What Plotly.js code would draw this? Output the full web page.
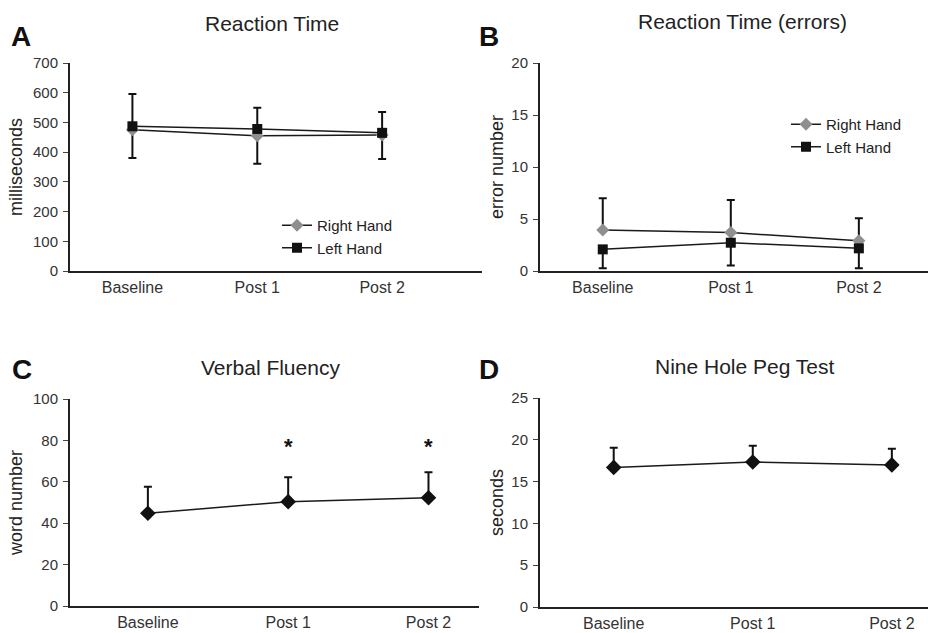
<!DOCTYPE html>
<html>
<head>
<meta charset="utf-8">
<script src="https://cdn.plot.ly/plotly-3.0.1.min.js"></script>
<style>html,body{margin:0;padding:0;background:#fff;}#chart{width:928px;height:633px;}</style>
</head>
<body>
<div id="chart"></div>
<script>
// ---- data ----
const categories = ['Baseline', 'Post 1', 'Post 2'];
const seriesNames = ['Right Hand', 'Left Hand'];
// A: Reaction Time (milliseconds) — Left Hand shows upper SD, Right Hand lower SD
const rtRight = [475, 455, 458];
const rtRightErrDown = [95, 94, 81];
const rtLeft = [487, 478, 465];
const rtLeftErrUp = [109, 71, 70];
// B: Reaction Time errors (error number) — Right Hand upper SD, Left Hand lower SD
const errRight = [3.94, 3.7, 2.9];
const errRightErrUp = [3.06, 3.13, 2.17];
const errLeft = [2.08, 2.72, 2.18];
const errLeftErrDown = [1.82, 2.2, 1.92];
// C: Verbal Fluency (word number)
const verbal = [44.8, 50.4, 52.3];
const verbalErr = [12.8, 11.8, 12.3];
const verbalSig = ['Post 1', 'Post 2'];
const sigLevel = 77;
// D: Nine Hole Peg Test (seconds)
const peg = [16.7, 17.35, 17.0];
const pegErr = [2.36, 1.95, 1.94];

const titles = ['Reaction Time', 'Reaction Time (errors)', 'Verbal Fluency', 'Nine Hole Peg Test'];
const letters = ['A', 'B', 'C', 'D'];
const yTitles = ['milliseconds', 'error number', 'word number', 'seconds'];

// ---- styling ----
const FONT = 'Liberation Sans, Arial, Helvetica, sans-serif';
const W = 928, H = 633;
const px = v => v / W;
const py = v => 1 - v / H;
const lineCol = '#1a1a1a';
const grayMarker = '#8f8f8f';

function errUp(arr) {
  return {type: 'data', symmetric: false, array: arr, arrayminus: arr.map(() => 0), visible: true,
    color: '#111', thickness: 2, width: 4};
}
function errDown(arr) {
  return {type: 'data', symmetric: false, array: arr.map(() => 0), arrayminus: arr, visible: true,
    color: '#111', thickness: 2, width: 4};
}

const traces = [
  {x: categories, y: rtRight, name: seriesNames[0], xaxis: 'x', yaxis: 'y', mode: 'lines+markers',
   line: {color: lineCol, width: 1.5}, marker: {symbol: 'diamond', size: 10, color: grayMarker},
   error_y: errDown(rtRightErrDown), legend: 'legend'},
  {x: categories, y: rtLeft, name: seriesNames[1], xaxis: 'x', yaxis: 'y', mode: 'lines+markers',
   line: {color: lineCol, width: 1.5}, marker: {symbol: 'square', size: 10, color: '#111'},
   error_y: errUp(rtLeftErrUp), legend: 'legend'},
  {x: categories, y: errRight, name: seriesNames[0], xaxis: 'x2', yaxis: 'y2', mode: 'lines+markers',
   line: {color: lineCol, width: 1.5}, marker: {symbol: 'diamond', size: 10, color: grayMarker},
   error_y: errUp(errRightErrUp), legend: 'legend2'},
  {x: categories, y: errLeft, name: seriesNames[1], xaxis: 'x2', yaxis: 'y2', mode: 'lines+markers',
   line: {color: lineCol, width: 1.5}, marker: {symbol: 'square', size: 10, color: '#111'},
   error_y: errDown(errLeftErrDown), legend: 'legend2'},
  {x: categories, y: verbal, name: 'Verbal Fluency', xaxis: 'x3', yaxis: 'y3', mode: 'lines+markers',
   line: {color: lineCol, width: 1.5}, marker: {symbol: 'diamond', size: 12, color: '#111'},
   error_y: errUp(verbalErr), showlegend: false},
  {x: categories, y: peg, name: 'Nine Hole Peg Test', xaxis: 'x4', yaxis: 'y4', mode: 'lines+markers',
   line: {color: lineCol, width: 1.5}, marker: {symbol: 'diamond', size: 12, color: '#111'},
   error_y: errUp(pegErr), showlegend: false}
];

function xax(d0, d1, r0, r1, anchor) {
  return {domain: [d0, d1], range: [r0, r1], type: 'category', anchor: anchor,
    showline: true, linecolor: '#222', linewidth: 2, showgrid: false, zeroline: false,
    ticks: '', ticklabelstandoff: 1, tickfont: {family: FONT, size: 16, color: '#333'}, fixedrange: true};
}
function yax(d0, d1, r1, dt, anchor, title, standoff) {
  return {domain: [d0, d1], range: [0, r1], dtick: dt, anchor: anchor,
    showline: true, linecolor: '#222', linewidth: 2, showgrid: false, zeroline: false,
    ticks: 'outside', ticklen: 5, tickwidth: 1, tickcolor: '#444', ticklabelstandoff: 2,
    tickfont: {family: FONT, size: 15, color: '#333'},
    title: {text: title, standoff: standoff, font: {family: FONT, size: 18, color: '#222'}}, fixedrange: true};
}

const titlePos = [[272, 23], [742, 22], [270, 367], [745, 366]];
const letterPos = [[21, 37], [489, 37], [22, 369], [489, 369]];
const annotations = [];
titles.forEach((t, i) => annotations.push({text: t, xref: 'paper', yref: 'paper', x: px(titlePos[i][0]), y: py(titlePos[i][1]),
  xanchor: 'center', yanchor: 'middle', showarrow: false, font: {family: FONT, size: 21, color: '#222'}}));
letters.forEach((t, i) => annotations.push({text: '<b>' + t + '</b>', xref: 'paper', yref: 'paper', x: px(letterPos[i][0]), y: py(letterPos[i][1]),
  xanchor: 'center', yanchor: 'middle', showarrow: false, font: {family: FONT, size: 28, color: '#111'}}));
verbalSig.forEach(c => annotations.push({text: '<b>*</b>', xref: 'x3', yref: 'y3', x: c, y: sigLevel,
  xanchor: 'center', yanchor: 'middle', showarrow: false, font: {family: FONT, size: 22, color: '#111'}}));

const layout = {
  width: W, height: H, margin: {l: 0, r: 0, t: 0, b: 0},
  paper_bgcolor: '#fff', plot_bgcolor: '#fff',
  font: {family: FONT, color: '#222'},
  showlegend: true,
  xaxis: xax(px(70), px(482), -0.5, 2.8, 'y'),
  yaxis: yax(py(271), py(63), 700, 100, 'x', yTitles[0], 6),
  xaxis2: xax(px(540), 1, -0.49, 2.54, 'y2'),
  yaxis2: yax(py(271), py(63), 20, 5, 'x2', yTitles[1], 3),
  xaxis3: xax(px(70), px(479), -0.555, 2.36, 'y3'),
  yaxis3: yax(py(606), py(399), 100, 20, 'x3', yTitles[2], 6),
  xaxis4: xax(px(540), 1, -0.53, 2.26, 'y4'),
  yaxis4: yax(py(607), py(398), 25, 5, 'x4', yTitles[3], 3),
  legend: {x: px(277), xanchor: 'left', y: py(209), yanchor: 'top', bgcolor: 'rgba(0,0,0,0)',
    font: {family: FONT, size: 15, color: '#222'}, itemwidth: 30, tracegroupgap: 0},
  legend2: {x: px(786), xanchor: 'left', y: py(108), yanchor: 'top', bgcolor: 'rgba(0,0,0,0)',
    font: {family: FONT, size: 15, color: '#222'}, itemwidth: 30, tracegroupgap: 0},
  annotations: annotations
};

Plotly.newPlot('chart', traces, layout, {displayModeBar: false, staticPlot: true});
</script>
</body>
</html>
